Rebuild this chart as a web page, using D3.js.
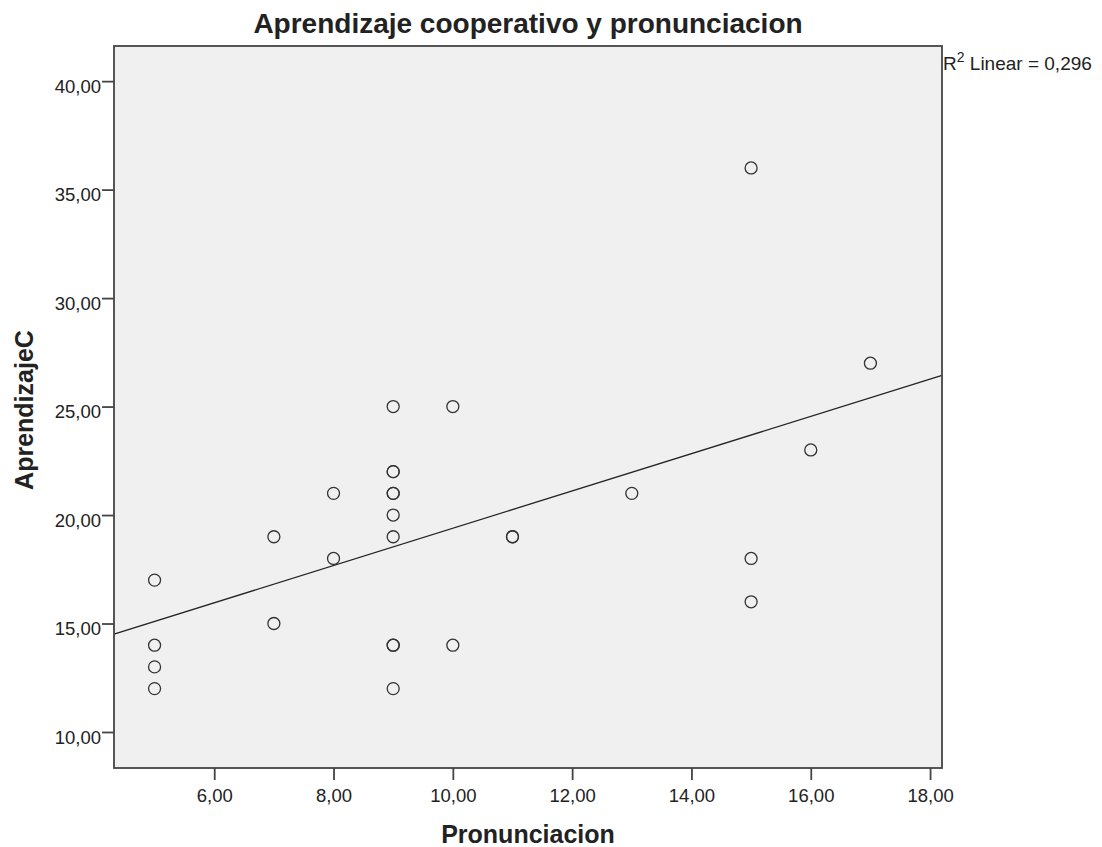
<!DOCTYPE html>
<html>
<head>
<meta charset="utf-8">
<script src="https://cdn.jsdelivr.net/npm/d3@7"></script>
<style>
  body { margin: 0; background: #fff; }
  svg text { font-family: "Liberation Sans", Arial, sans-serif; fill: #222; }
</style>
</head>
<body>
<div id="chart"></div>
<script>
// data
let pronunciacion = [5, 5, 5, 5, 7, 7, 8, 8, 9, 9, 9, 9, 9, 9, 9, 9, 9, 9, 10, 10, 11, 11, 13, 15, 15, 15, 16, 17]
let aprendizaje = [17, 14, 13, 12, 19, 15, 21, 18, 25, 22, 22, 21, 21, 20, 19, 14, 14, 12, 25, 14, 19, 19, 21, 36, 18, 16, 23, 27]
let xTicks = [6, 8, 10, 12, 14, 16, 18]
let yTicks = [10, 15, 20, 25, 30, 35, 40]

let fullW = 1102
let fullH = 847
let margin = { top: 46, left: 114, right: 160, bottom: 79 }
let width = fullW - margin.left - margin.right
let height = fullH - margin.top - margin.bottom

let svg = d3
  .select('#chart')
  .append('svg')
  .attr('width', fullW)
  .attr('height', fullH)

let g = svg.append('g').attr('transform', `translate(${margin.left},${margin.top})`)

let xPositionScale = d3.scaleLinear().domain([4.32, 18.2]).range([0, width])
let yPositionScale = d3.scaleLinear().domain([8.34, 41.62]).range([height, 0])

let fmt = d => d.toFixed(2).replace('.', ',')

// plot background
g.append('rect')
  .attr('width', width)
  .attr('height', height)
  .attr('fill', '#f0f0f0')

// regression line
let points = pronunciacion.map((x, i) => ({ x: x, y: aprendizaje[i] }))
let mx = d3.mean(points, d => d.x)
let my = d3.mean(points, d => d.y)
let sxy = d3.sum(points, d => (d.x - mx) * (d.y - my))
let sxx = d3.sum(points, d => (d.x - mx) * (d.x - mx))
let slope = sxy / sxx
let intercept = my - slope * mx
let xs = xPositionScale.domain()

g.append('line')
  .attr('x1', xPositionScale(xs[0]))
  .attr('x2', xPositionScale(xs[1]))
  .attr('y1', yPositionScale(intercept + slope * xs[0]))
  .attr('y2', yPositionScale(intercept + slope * xs[1]))
  .attr('stroke', '#222')
  .attr('stroke-width', 1.3)

// points
g.selectAll('.dot')
  .data(points)
  .enter()
  .append('circle')
  .attr('class', 'dot')
  .attr('cx', d => xPositionScale(d.x))
  .attr('cy', d => yPositionScale(d.y))
  .attr('r', 6)
  .attr('fill', 'none')
  .attr('stroke', '#333')
  .attr('stroke-width', 1.3)

// frame
g.append('rect')
  .attr('width', width)
  .attr('height', height)
  .attr('fill', 'none')
  .attr('stroke', '#444')
  .attr('stroke-width', 1.8)

// axes
let xAxis = d3.axisBottom(xPositionScale).tickValues(xTicks).tickFormat(fmt).tickSize(12).tickSizeOuter(0)
let yAxis = d3.axisLeft(yPositionScale).tickValues(yTicks).tickFormat(fmt).tickSize(12).tickSizeOuter(0).tickPadding(1)

let xg = g.append('g')
  .attr('transform', `translate(0,${height})`)
  .call(xAxis)
let yg = g.append('g').call(yAxis)

;[xg, yg].forEach(a => {
  a.select('.domain').remove()
  a.selectAll('line').attr('stroke', '#444').attr('stroke-width', 1.8)
  a.selectAll('text').attr('font-size', 18.5).attr('fill', '#222')
})
xg.selectAll('text').attr('dy', '1em')
yg.selectAll('text').attr('dy', '0.6em')

// titles
svg.append('text')
  .attr('x', margin.left + width / 2)
  .attr('y', 33)
  .attr('text-anchor', 'middle')
  .attr('font-size', 28)
  .attr('font-weight', 'bold')
  .text('Aprendizaje cooperativo y pronunciacion')

svg.append('text')
  .attr('x', margin.left + width / 2)
  .attr('y', 843)
  .attr('text-anchor', 'middle')
  .attr('font-size', 25)
  .attr('font-weight', 'bold')
  .text('Pronunciacion')

svg.append('text')
  .attr('transform', `translate(33,410) rotate(-90)`)
  .attr('text-anchor', 'middle')
  .attr('font-size', 25)
  .attr('font-weight', 'bold')
  .text('AprendizajeC')

// R2 label
let r2 = svg.append('text')
  .attr('x', margin.left + width + 1)
  .attr('y', 70)
  .attr('font-size', 19)
r2.append('tspan').text('R')
r2.append('tspan').attr('dy', -8).attr('font-size', 14).text('2')
r2.append('tspan').attr('dy', 8).text(' Linear = 0,296')
</script>
</body>
</html>
